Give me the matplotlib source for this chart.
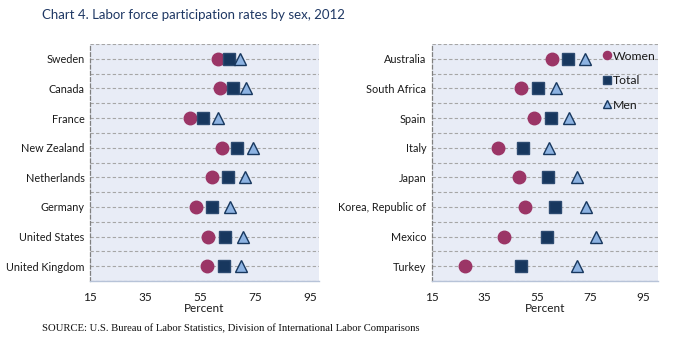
import numpy as np
import matplotlib.pyplot as plt

left_countries = ['Sweden', 'Canada', 'France', 'New Zealand', 'Netherlands',
                  'Germany', 'United States', 'United Kingdom']
left_women = [61.3, 62.1, 51.2, 62.8, 59.2, 53.5, 57.8, 57.4]
left_total = [65.5, 66.8, 55.8, 68.2, 65.0, 59.2, 63.9, 63.5]
left_men = [69.5, 71.4, 61.3, 74.1, 71.1, 65.6, 70.3, 69.6]

right_countries = ['Australia', 'South Africa', 'Spain', 'Italy', 'Japan',
                   'Korea, Republic of', 'Mexico', 'Turkey']
right_women = [60.5, 48.6, 53.5, 39.9, 48.0, 50.1, 42.1, 27.4]
right_total = [66.4, 55.0, 59.9, 49.3, 58.8, 61.4, 58.7, 48.6]
right_men = [72.8, 61.8, 67.0, 59.4, 70.0, 73.4, 77.0, 70.0]

ticks = [15, 35, 55, 75, 95]

c_women = '#9B3566'
c_total = '#17375E'
c_men = '#8DB3E2'
bg = '#E8ECF6'
txt = '#1a1a1a'
font = 'Lato'

fig = plt.figure(figsize=(6.75, 3.46), dpi=100)
ax1 = fig.add_axes([90 / 675, 1 - 281 / 346, 229 / 675, 237 / 346])
ax2 = fig.add_axes([432 / 675, 1 - 281 / 346, 226 / 675, 237 / 346])


def draw(ax, names, women, total, men, xmax, legend=False):
    y = np.arange(len(names))
    ax.set_facecolor(bg)
    for g in np.arange(-0.5, len(names), 0.5):
        ax.axhline(g, color='#A6A6A6', lw=0.8, ls=(0, (3, 2)), zorder=1)
    ax.plot(women, y, 'o', ms=9, color=c_women, mec=c_women, label='Women', zorder=3)
    ax.plot(total, y, 's', ms=8.5, color=c_total, mec='#2C4A70', label='Total', zorder=3)
    ax.plot(men, y, '^', ms=9, color=c_men, mec=c_total, mew=1, label='Men', zorder=3)
    ax.set_ylim(len(names) - 0.5, -0.5)
    ax.set_xlim(15, xmax)
    ax.set_yticks(y)
    ax.set_yticklabels(names, fontsize=7.8, color=txt, family=font)
    ax.set_xticks(ticks)
    ax.set_xticklabels([str(t) for t in ticks], fontsize=8.5, color=txt, family=font)
    ax.set_xlabel('Percent', fontsize=8.5, color=txt, family=font, labelpad=0)
    ax.tick_params(axis='y', length=0, pad=4)
    ax.tick_params(axis='x', length=0, pad=8)
    for s in ['top', 'right']:
        ax.spines[s].set_visible(False)
    ax.spines['left'].set_color('#808080')
    ax.spines['left'].set_linestyle((0, (3, 2)))
    ax.spines['left'].set_linewidth(0.9)
    ax.spines['bottom'].set_color('#B7C3D8')
    ax.spines['bottom'].set_linewidth(1)
    if legend:
        ax.legend(loc='upper right', frameon=False, markerscale=0.65,
                  handlelength=0.6, handletextpad=0.2, labelspacing=1.1,
                  borderaxespad=0.1, borderpad=0.45,
                  prop={'family': font, 'size': 8.8}, labelcolor=txt,
                  bbox_to_anchor=(1.02, 1.0))


draw(ax1, left_countries, left_women, left_total, left_men, 98)
draw(ax2, right_countries, right_women, right_total, right_men, 100.6, legend=True)

fig.text(42 / 675, 1 - 15 / 346, 'Chart 4. Labor force participation rates by sex, 2012',
         fontsize=9.5, color='#1F3864', family=font, va='center')
fig.text(42 / 675, 1 - 328 / 346,
         'SOURCE: U.S. Bureau of Labor Statistics, Division of International Labor Comparisons',
         fontsize=7.7, color='#111111', family='Liberation Serif', va='center')

fig.savefig('out.png', dpi=100)
